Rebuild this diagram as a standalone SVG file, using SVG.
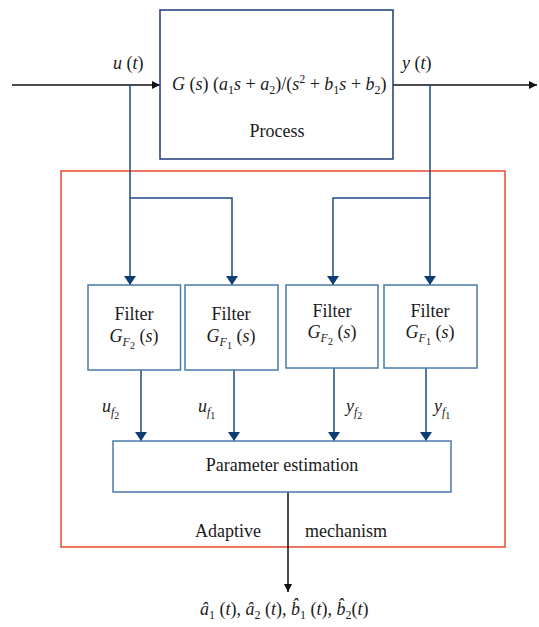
<svg xmlns="http://www.w3.org/2000/svg" width="539" height="627" viewBox="0 0 539 627">
<style>
text{font-family:"Liberation Serif","Times New Roman","DejaVu Serif",serif;font-size:18px;fill:#1a1a1a}
.i{font-style:italic}
.sub{font-size:12px}
.blk{stroke:#111;stroke-width:1.5;fill:none}
.blu{stroke:#1d4b85;stroke-width:1.5;fill:none}
.fbox{fill:#fff;stroke:#4a7aa8;stroke-width:1.5}
</style>
<defs>
<marker id="ab" viewBox="0 0 10 10" refX="10" refY="5" markerWidth="8" markerHeight="8" markerUnits="userSpaceOnUse" orient="auto"><path d="M0,0 L10,5 L0,10 z" fill="#111"/></marker>
<marker id="au" viewBox="0 0 10 10" refX="10" refY="5" markerWidth="9" markerHeight="12" markerUnits="userSpaceOnUse" orient="auto" preserveAspectRatio="none"><path d="M0,0 L10,5 L0,10 z" fill="#0e3c74"/></marker>
</defs>
<g id="adaptive">
<rect x="61" y="171" width="444" height="376" fill="none" stroke="#ea4a30" stroke-width="1.5"/>
<text x="195" y="537">Adaptive</text>
<text x="305" y="537">mechanism</text>
</g>
<g id="connectors">
<line class="blk" x1="12" y1="85" x2="160" y2="85" marker-end="url(#ab)"/>
<line class="blk" x1="393" y1="85" x2="537" y2="85" marker-end="url(#ab)"/>
<line class="blu" x1="130" y1="85" x2="130" y2="285" marker-end="url(#au)"/>
<polyline class="blu" points="130,198 232,198 232,285" marker-end="url(#au)"/>
<line class="blu" x1="430" y1="85" x2="430" y2="285" marker-end="url(#au)"/>
<polyline class="blu" points="430,198 333,198 333,285" marker-end="url(#au)"/>
<line class="blu" x1="141" y1="370" x2="141" y2="441" marker-end="url(#au)"/>
<line class="blu" x1="234" y1="370" x2="234" y2="441" marker-end="url(#au)"/>
<line class="blu" x1="334" y1="368" x2="334" y2="441" marker-end="url(#au)"/>
<line class="blu" x1="426" y1="368" x2="426" y2="441" marker-end="url(#au)"/>
<line class="blk" x1="288" y1="492" x2="288" y2="592" marker-end="url(#ab)"/>
</g>
<g id="process">
<rect x="160" y="10" width="233" height="149" fill="#fff" stroke="#1f3a78" stroke-width="1.5"/>
<text x="172" y="90" font-size="18.5"><tspan class="i">G</tspan> (<tspan class="i">s</tspan>) (<tspan class="i">a</tspan><tspan class="sub" dy="4">1</tspan><tspan class="i" dy="-4">s</tspan> + <tspan class="i">a</tspan><tspan class="sub" dy="4">2</tspan><tspan dy="-4">)/(</tspan><tspan class="i">s</tspan><tspan class="sub" dy="-7">2</tspan><tspan dy="7"> + </tspan><tspan class="i">b</tspan><tspan class="sub" dy="4">1</tspan><tspan class="i" dy="-4">s</tspan> + <tspan class="i">b</tspan><tspan class="sub" dy="4">2</tspan><tspan dy="-4">)</tspan></text>
<text x="277" y="137" text-anchor="middle">Process</text>
</g>
<g id="labels">
<text x="113" y="69"><tspan class="i">u</tspan> (<tspan class="i">t</tspan>)</text>
<text x="402" y="69"><tspan class="i">y</tspan> (<tspan class="i">t</tspan>)</text>
<text x="102" y="412"><tspan class="i">u</tspan><tspan class="i sub" dy="4">f</tspan><tspan dy="3" font-size="10">2</tspan></text>
<text x="198" y="412"><tspan class="i">u</tspan><tspan class="i sub" dy="4">f</tspan><tspan dy="3" font-size="10">1</tspan></text>
<text x="346" y="412"><tspan class="i">y</tspan><tspan class="i sub" dy="4">f</tspan><tspan dy="3" font-size="10">2</tspan></text>
<text x="434" y="412"><tspan class="i">y</tspan><tspan class="i sub" dy="4">f</tspan><tspan dy="3" font-size="10">1</tspan></text>
</g>
<g id="filter1">
<rect class="fbox" x="88" y="285" width="92.5" height="85"/>
<text x="134" y="320" text-anchor="middle">Filter</text>
<text x="134" y="342" text-anchor="middle"><tspan class="i">G</tspan><tspan class="i sub" dy="4">F</tspan><tspan dy="3" font-size="10">2</tspan><tspan dy="-7"> (</tspan><tspan class="i">s</tspan>)</text>
</g>
<g id="filter2">
<rect class="fbox" x="185" y="285" width="93" height="85"/>
<text x="231" y="320" text-anchor="middle">Filter</text>
<text x="231" y="342" text-anchor="middle"><tspan class="i">G</tspan><tspan class="i sub" dy="4">F</tspan><tspan dy="3" font-size="10">1</tspan><tspan dy="-7"> (</tspan><tspan class="i">s</tspan>)</text>
</g>
<g id="filter3">
<rect class="fbox" x="286" y="285" width="92" height="83"/>
<text x="332" y="317" text-anchor="middle">Filter</text>
<text x="332" y="338" text-anchor="middle"><tspan class="i">G</tspan><tspan class="i sub" dy="4">F</tspan><tspan dy="3" font-size="10">2</tspan><tspan dy="-7"> (</tspan><tspan class="i">s</tspan>)</text>
</g>
<g id="filter4">
<rect class="fbox" x="384" y="285" width="93" height="83"/>
<text x="430" y="317" text-anchor="middle">Filter</text>
<text x="430" y="338" text-anchor="middle"><tspan class="i">G</tspan><tspan class="i sub" dy="4">F</tspan><tspan dy="3" font-size="10">1</tspan><tspan dy="-7"> (</tspan><tspan class="i">s</tspan>)</text>
</g>
<g id="estimation">
<rect class="fbox" x="113" y="441" width="338" height="51"/>
<text x="282" y="471" text-anchor="middle" font-size="18.5">Parameter estimation</text>
</g>
<g id="output">
<text x="200" y="615"><tspan class="i">â</tspan><tspan class="sub" dy="4">1</tspan><tspan dy="-4"> (</tspan><tspan class="i">t</tspan>), <tspan class="i">â</tspan><tspan class="sub" dy="4">2</tspan><tspan dy="-4"> (</tspan><tspan class="i">t</tspan>), <tspan class="i">b̂</tspan><tspan class="sub" dy="4">1</tspan><tspan dy="-4"> (</tspan><tspan class="i">t</tspan>), <tspan class="i">b̂</tspan><tspan class="sub" dy="4">2</tspan><tspan dy="-4">(</tspan><tspan class="i">t</tspan>)</text>
</g>
</svg>
